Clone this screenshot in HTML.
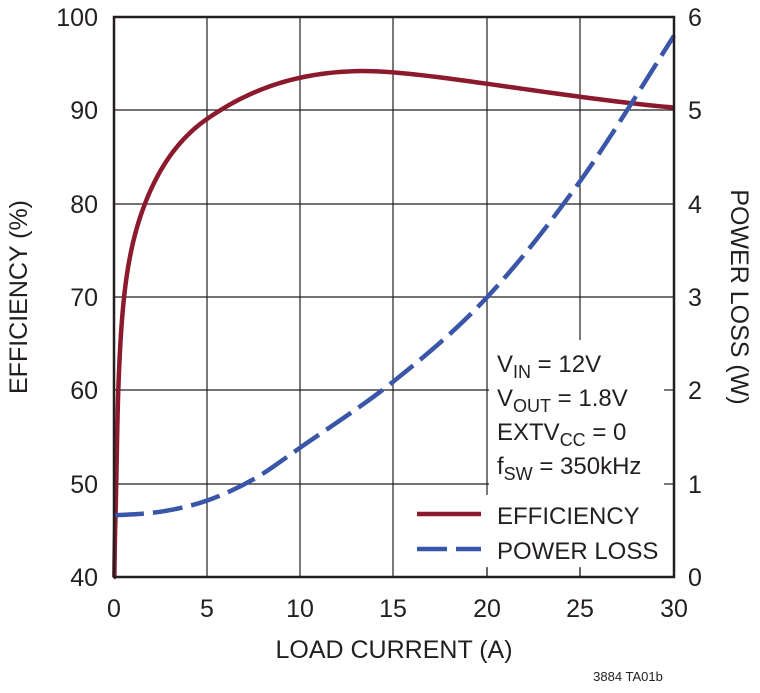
<!DOCTYPE html>
<html><head><meta charset="utf-8"><style>
body{margin:0;background:#fff}
svg text{font-family:"Liberation Sans",sans-serif;fill:#231f20}
</style></head><body>
<svg id="s" width="760" height="688" xmlns="http://www.w3.org/2000/svg">
<g stroke="#231f20" stroke-width="1.2">
<line x1="207" y1="17" x2="207" y2="577"/><line x1="300" y1="17" x2="300" y2="577"/>
<line x1="393" y1="17" x2="393" y2="577"/><line x1="487" y1="17" x2="487" y2="577"/>
<line x1="580" y1="17" x2="580" y2="577"/>
<line x1="114" y1="110" x2="674" y2="110"/><line x1="114" y1="204" x2="674" y2="204"/>
<line x1="114" y1="297" x2="674" y2="297"/><line x1="114" y1="390" x2="674" y2="390"/>
<line x1="114" y1="484" x2="674" y2="484"/>
</g>
<rect x="489" y="340" width="185" height="228" fill="#fff"/>
<rect x="410" y="495" width="264" height="73" fill="#fff"/>
<g stroke="#231f20" stroke-width="1.2">
<line x1="487" y1="567" x2="487" y2="577"/><line x1="580" y1="567" x2="580" y2="577"/>
<line x1="664" y1="390" x2="674" y2="390"/><line x1="664" y1="484" x2="674" y2="484"/>
</g>
<path id="eff" fill="none" stroke="#8b1a2c" stroke-width="4.5" stroke-linejoin="round"/>
<path id="pl" fill="none" stroke="#3a56a8" stroke-width="4.5" stroke-dasharray="30 9"/>
<rect x="114" y="17" width="560" height="560" fill="none" stroke="#231f20" stroke-width="2.5"/>
<line x1="417" y1="514" x2="481" y2="514" stroke="#8b1a2c" stroke-width="4.5"/>
<line x1="417" y1="549" x2="481" y2="549" stroke="#3a56a8" stroke-width="4.5" stroke-dasharray="30 9"/>
<g font-size="24">
<text x="497" y="372">V<tspan font-size="18" dy="6">IN</tspan><tspan dy="-6"> = 12V</tspan></text>
<text x="497" y="406">V<tspan font-size="18" dy="6">OUT</tspan><tspan dy="-6"> = 1.8V</tspan></text>
<text x="497" y="440">EXTV<tspan font-size="18" dy="6">CC</tspan><tspan dy="-6"> = 0</tspan></text>
<text x="497" y="474">f<tspan font-size="18" dy="6">SW</tspan><tspan dy="-6"> = 350kHz</tspan></text>
<text x="497" y="524">EFFICIENCY</text>
<text x="497" y="559">POWER LOSS</text>
</g>
<g font-size="25" text-anchor="end">
<text x="98" y="26">100</text><text x="98" y="119">90</text><text x="98" y="213">80</text>
<text x="98" y="306">70</text><text x="98" y="399">60</text><text x="98" y="493">50</text><text x="98" y="586">40</text>
</g>
<g font-size="25" text-anchor="start">
<text x="688" y="26">6</text><text x="688" y="119">5</text><text x="688" y="213">4</text>
<text x="688" y="306">3</text><text x="688" y="399">2</text><text x="688" y="493">1</text><text x="688" y="586">0</text>
</g>
<g font-size="25" text-anchor="middle">
<text x="114" y="617">0</text><text x="207" y="617">5</text><text x="300" y="617">10</text>
<text x="393" y="617">15</text><text x="487" y="617">20</text><text x="580" y="617">25</text><text x="674" y="617">30</text>
<text x="394" y="658">LOAD CURRENT (A)</text>
<text transform="translate(27,297) rotate(-90)">EFFICIENCY (%)</text>
<text transform="translate(731,297) rotate(90)">POWER LOSS (W)</text>
<text x="628" y="681" font-size="13">3884 TA01b</text>
</g>
</svg>
<script>
function X(i){return 114+i*560/30}
function cr(pts){var d="M"+pts[0][0].toFixed(1)+","+pts[0][1].toFixed(1);
for(var i=0;i<pts.length-1;i++){var p0=pts[i-1]||pts[i],p1=pts[i],p2=pts[i+1],p3=pts[i+2]||p2;
var c1=[p1[0]+(p2[0]-p0[0])/6,p1[1]+(p2[1]-p0[1])/6],c2=[p2[0]-(p3[0]-p1[0])/6,p2[1]-(p3[1]-p1[1])/6];
d+="C"+c1[0].toFixed(1)+","+c1[1].toFixed(1)+" "+c2[0].toFixed(1)+","+c2[1].toFixed(1)+" "+p2[0].toFixed(1)+","+p2[1].toFixed(1);}return d}
var e=[[0.02,40],[0.06,45],[0.12,50],[0.23,60],[0.54,70],[1.66,80],[5,89.1],[13,94.2],[30,90.3]];
var q=e.map(function(p){return[Math.log(p[0]),p[1]]});
var out=[[114,577]];
for(var i=0;i<q.length-1;i++){var p0=q[i-1]||q[i],p1=q[i],p2=q[i+1],p3=q[i+2]||p2;
for(var t=0;t<=1.0001;t+=0.025){var t2=t*t,t3=t2*t;
var f=function(k){return 0.5*((2*p1[k])+(-p0[k]+p2[k])*t+(2*p0[k]-5*p1[k]+4*p2[k]-p3[k])*t2+(-p0[k]+3*p1[k]-3*p2[k]+p3[k])*t3)};
var I=Math.exp(f(0)),v=f(1);out.push([X(I),577-(v-40)*560/60]);}}
document.getElementById("eff").setAttribute("d","M"+out.map(function(p){return p[0].toFixed(2)+","+p[1].toFixed(2)}).join("L"));
var pl=[[0,0.66],[2.5,0.7],[5,0.82],[7.5,1.05],[10,1.39],[15,2.1],[20,3.0],[25,4.25],[30,5.8]];
document.getElementById("pl").setAttribute("d",cr(pl.map(function(p){return[X(p[0]),577-p[1]*560/6]})));
</script>
</body></html>
